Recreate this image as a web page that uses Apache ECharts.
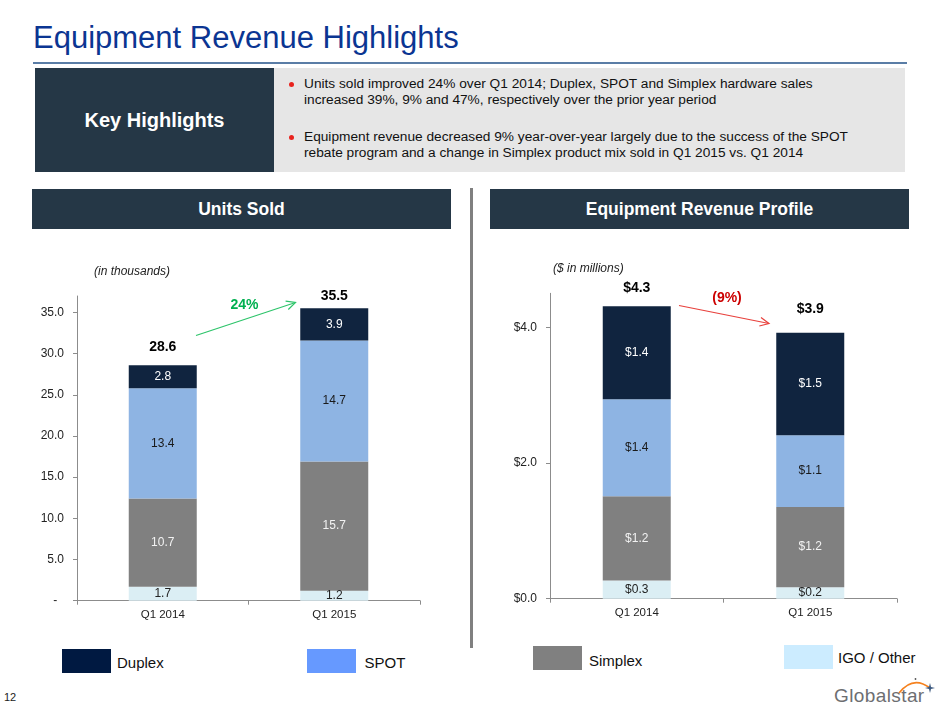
<!DOCTYPE html>
<html><head><meta charset="utf-8">
<script src="https://cdn.jsdelivr.net/npm/echarts@6/dist/echarts.min.js"></script>
<style>
body{margin:0;width:940px;height:705px;position:relative;overflow:hidden;background:#fff;font-family:"Liberation Sans",Arial,Helvetica,sans-serif;}
.abs{position:absolute;}
.hdr{position:absolute;background:#253746;color:#fff;font-weight:bold;display:flex;align-items:center;justify-content:center;}
.bl{position:absolute;left:304px;font-size:13.7px;line-height:16.5px;color:#111;white-space:nowrap;}
.dot{position:absolute;left:289px;width:5px;height:5px;border-radius:50%;background:#E8231E;}
.sw{position:absolute;width:49px;height:24px;}
.lt{position:absolute;font-size:15px;line-height:15px;color:#111;white-space:nowrap;}
#chart{position:absolute;left:0;top:0;width:940px;height:705px;z-index:2;}
</style></head><body>
<div class="abs" style="left:33px;top:21.8px;font-size:31px;line-height:31px;color:#0B3592;white-space:nowrap;">Equipment Revenue Highlights</div>
<div class="abs" style="left:33px;top:61.5px;width:874px;height:2px;background:#5A7DA6;"></div>
<div class="hdr" style="left:35px;top:68px;width:239px;height:104px;font-size:20px;">Key Highlights</div>
<div class="abs" style="left:274px;top:68px;width:631px;height:104px;background:#E6E6E6;"></div>
<div class="dot" style="top:81.5px;"></div>
<div class="bl" style="top:75.75px;">Units sold improved 24% over Q1 2014; Duplex, SPOT and Simplex hardware sales<br>increased 39%, 9% and 47%, respectively over the prior year period</div>
<div class="dot" style="top:134.5px;"></div>
<div class="bl" style="top:128.75px;">Equipment revenue decreased 9% year-over-year largely due to the success of the SPOT<br>rebate program and a change in Simplex product mix sold in Q1 2015 vs. Q1 2014</div>
<div class="hdr" style="left:32px;top:189px;width:419px;height:40px;font-size:17.5px;">Units Sold</div>
<div class="hdr" style="left:490px;top:189px;width:419px;height:40px;font-size:17.5px;">Equipment Revenue Profile</div>
<div class="abs" style="left:470px;top:188px;width:3px;height:460px;background:#808080;"></div>

<div class="sw" style="left:62px;top:649px;background:#001941;"></div>
<div class="lt" style="left:117px;top:654.5px;">Duplex</div>
<div class="sw" style="left:307px;top:649px;background:#6699FF;"></div>
<div class="lt" style="left:364.5px;top:654.5px;">SPOT</div>
<div class="sw" style="left:533px;top:646px;background:#808080;"></div>
<div class="lt" style="left:589px;top:652.5px;">Simplex</div>
<div class="sw" style="left:784px;top:645px;background:#CCECFF;"></div>
<div class="lt" style="left:838px;top:649.5px;">IGO / Other</div>

<div class="abs" style="left:4px;top:692px;font-size:11px;line-height:11px;color:#222;">12</div>
<div class="abs" style="left:834px;top:686px;font-size:19px;line-height:19px;color:#6D6E71;letter-spacing:0.4px;white-space:nowrap;">Globalstar</div>
<svg class="abs" style="left:0;top:0;z-index:3;" width="940" height="705">
  <path d="M899 693 Q913 675 930 688" fill="none" stroke="#F5821F" stroke-width="1.6"/>
  <path d="M930 683 L931 687 L935 688 L931 689 L930 693 L929 689 L925 688 L929 687 Z" fill="#3D5A80"/>
  <circle cx="915.5" cy="679" r="0.9" fill="#555"/>
</svg>

<div id="chart"></div>
<script>
// ---- data ----
const categories = ['Q1 2014', 'Q1 2015'];
// Units sold (thousands)
const unitsIGO = [1.7, 1.2];
const unitsSimplex = [10.7, 15.7];
const unitsSPOT = [13.4, 14.7];
const unitsDuplex = [2.8, 3.9];
const unitsTotal = [28.6, 35.5];
const unitsTicks = [0, 5, 10, 15, 20, 25, 30, 35];
// Equipment revenue ($ millions)
const revIGO = [0.27, 0.17];
const revSimplex = [1.24, 1.18];
const revSPOT = [1.43, 1.06];
const revDuplex = [1.37, 1.51];
const revTotal = [4.3, 3.9];
const revTicks = [0, 2, 4];
const unitsChange = '24%';
const revChange = '(9%)';

// ---- styles ----
const FONT = '"Liberation Sans", Arial, sans-serif';
const C_DUP = '#10243F', C_SPOT = '#8EB4E3', C_SIM = '#808080', C_IGO = '#DBEEF4';
const AX = '#8C8C8C';

const chart = echarts.init(document.getElementById('chart'), null, {renderer: 'canvas'});

function seg(name, data, color, labelColor, gi, fmt) {
  return {
    name, type: 'bar', stack: 's' + gi, xAxisIndex: gi, yAxisIndex: gi,
    data, barWidth: 68, itemStyle: {color},
    label: {show: true, position: 'inside', color: labelColor, fontSize: 12, fontFamily: FONT, formatter: p => fmt(p.value)},
    emphasis: {disabled: true}
  };
}
function totalSeries(totals, gi, fmt, dists) {
  return {
    name: 'Total' + gi, type: 'bar', stack: 's' + gi, xAxisIndex: gi, yAxisIndex: gi, barWidth: 68,
    data: totals.map((t, i) => ({value: 0, label: {distance: dists[i]}})),
    itemStyle: {color: 'transparent'},
    label: {show: true, position: 'top', color: '#000', fontWeight: 'bold', fontSize: 14, fontFamily: FONT,
      formatter: p => fmt(totals[p.dataIndex])},
    emphasis: {disabled: true}
  };
}
const uf = v => v.toFixed(1);
const rf = v => '$' + v.toFixed(1);

function xAx(gi) {
  return {type: 'category', gridIndex: gi, data: categories,
    axisLine: {lineStyle: {color: AX, width: 1}},
    axisTick: {show: true, length: 4, lineStyle: {color: AX}},
    axisLabel: {color: '#222', fontSize: 11.5, fontFamily: FONT, margin: 8}};
}

function arrow(x1, y1, x2, y2, color) {
  const a = Math.atan2(y2 - y1, x2 - x1), L = 10, s = 0.45;
  return [
    {type: 'line', shape: {x1, y1, x2, y2}, style: {stroke: color, lineWidth: 1.2}, z: 10},
    {type: 'polyline', shape: {points: [
      [x2 - L * Math.cos(a - s), y2 - L * Math.sin(a - s)], [x2, y2],
      [x2 - L * Math.cos(a + s), y2 - L * Math.sin(a + s)]]},
      style: {stroke: color, lineWidth: 1.2, fill: null}, z: 10}
  ];
}

const option = {
  backgroundColor: 'transparent',
  animation: false,
  grid: [
    {left: 77, right: 520, top: 296, bottom: 104.3},
    {left: 550, right: 43, top: 293.3, bottom: 106.3}
  ],
  xAxis: [xAx(0), xAx(1)],
  yAxis: [
    {type: 'value', gridIndex: 0, min: 0, max: 37, interval: 5,
      axisLine: {show: true, lineStyle: {color: AX}},
      axisTick: {show: true, length: 4, lineStyle: {color: AX}, customValues: unitsTicks},
      splitLine: {show: false},
      axisLabel: {color: '#222', fontSize: 12, fontFamily: FONT, margin: 13, customValues: unitsTicks,
        formatter: v => v === 0 ? '-  ' : v.toFixed(1)}},
    {type: 'value', gridIndex: 1, min: 0, max: 4.5, interval: 2,
      axisLine: {show: true, lineStyle: {color: AX}},
      axisTick: {show: true, length: 4, lineStyle: {color: AX}, customValues: revTicks},
      splitLine: {show: false},
      axisLabel: {color: '#222', fontSize: 12, fontFamily: FONT, margin: 13, customValues: revTicks,
        formatter: v => '$' + v.toFixed(1)}}
  ],
  series: [
    seg('IGO / Other', unitsIGO, C_IGO, '#222', 0, uf),
    seg('Simplex', unitsSimplex, C_SIM, '#F2F2F2', 0, uf),
    seg('SPOT', unitsSPOT, C_SPOT, '#1A1A1A', 0, uf),
    seg('Duplex', unitsDuplex, C_DUP, '#FFFFFF', 0, uf),
    totalSeries(unitsTotal, 0, uf, [11, 5]),
    seg('IGO / Other', revIGO, C_IGO, '#222', 1, rf),
    seg('Simplex', revSimplex, C_SIM, '#F2F2F2', 1, rf),
    seg('SPOT', revSPOT, C_SPOT, '#1A1A1A', 1, rf),
    seg('Duplex', revDuplex, C_DUP, '#FFFFFF', 1, rf),
    totalSeries(revTotal, 1, rf, [11, 17])
  ],
  graphic: [
    {type: 'text', left: 94, top: 266, style: {text: '(in thousands)', font: 'italic 12px ' + FONT, fill: '#222'}},
    {type: 'text', left: 553, top: 263, style: {text: '($ in millions)', font: 'italic 12px ' + FONT, fill: '#222'}},
    {type: 'text', x: 244.5, y: 305.5, style: {text: unitsChange, font: 'bold 14px ' + FONT, fill: '#00B050', align: 'center', verticalAlign: 'middle'}},
    {type: 'text', x: 727, y: 298, style: {text: revChange, font: 'bold 14px ' + FONT, fill: '#CC0000', align: 'center', verticalAlign: 'middle'}},
    ...arrow(196, 335.5, 295.5, 302.5, '#2DC46A'),
    ...arrow(679, 305.5, 769, 323.5, '#E8403C')
  ]
};
chart.setOption(option);
</script>
</body></html>
